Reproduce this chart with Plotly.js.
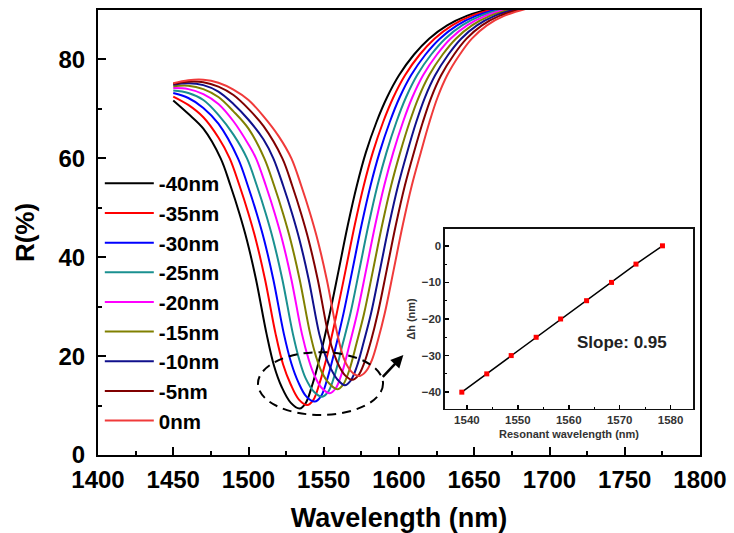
<!DOCTYPE html>
<html>
<head>
<meta charset="utf-8">
<script src="https://cdn.plot.ly/plotly-3.0.1.min.js"></script>
<style>html,body{margin:0;padding:0;background:#fff;}#chart{width:734px;height:533px;}</style>
</head>
<body>
<div id="chart"></div>
<script>
// Series names and colours
const names = ["-40nm","-35nm","-30nm","-25nm","-20nm","-15nm","-10nm","-5nm","0nm"];
const colors = ["#000000","#ff0000","#0000ff","#1a9090","#ff00ff","#808000","#10108c","#800000","#f03a3a"];

// Reflectance spectra (wavelength nm, R %)
const x0 = [1450,1460,1470,1481.5,1488,1494,1499,1505,1512,1517,1522,1528,1534,1538,1542,1548,1554,1560,1566,1572,1578,1585,1592,1600,1610,1620,1632,1645,1660,1680];
const y0 = [71.7,69.0,66.0,60,54.5,48.8,43.4,35.5,24.5,18,13.8,10.6,9.4,10.5,13.8,20.5,28.6,37.5,46.5,54.5,61.2,67.3,72.3,76.8,81.0,84.2,86.9,88.8,90.2,91.5];
const x1 = [1450,1460,1470,1480,1487.5,1494,1500,1505,1511,1518,1523,1528,1533.5,1539,1543,1547,1553,1558.6,1564.6,1570.6,1576.6,1582.6,1589.4,1596.2,1604,1613.8,1623.6,1635.3,1648.1,1663,1683];
const y1 = [72.5,70.8,68.3,64.2,60,54.5,48.8,43.4,35.5,24.5,18.3,14.3,11.2,10.1,11.1,14.3,21.0,28.6,37.5,46.5,54.5,61.2,67.3,72.3,76.8,81.0,84.2,86.9,88.8,90.2,91.5];
const x2 = [1450,1460,1470,1480,1493,1499.5,1505.5,1510.5,1516.5,1523.5,1528.5,1533,1538.5,1544,1548,1552,1557.5,1563.1,1569.1,1575.1,1581.1,1587.1,1593.8,1600.4,1608,1617.6,1627.1,1638.6,1651.2,1666,1686];
const y2 = [73.2,72.2,70.2,67.0,60,54.5,48.8,43.4,35.5,24.5,18.5,14.8,11.8,10.8,11.8,15.0,21.3,28.6,37.5,46.5,54.5,61.2,67.3,72.3,76.8,81.0,84.2,86.9,88.8,90.2,91.5];
const x3 = [1450,1460,1470,1480,1490,1499,1505.5,1511.5,1516.5,1522.5,1529.5,1534,1538,1543.5,1549,1553,1557,1562.2,1567.7,1573.7,1579.7,1585.7,1591.7,1598.2,1604.6,1612,1621.4,1630.7,1641.9,1654.3,1669,1689];
const y3 = [73.7,73.2,71.8,68.8,64.8,60,54.5,48.8,43.4,35.5,24.5,19,15.5,12.8,11.8,12.8,15.9,22.0,28.6,37.5,46.5,54.5,61.2,67.3,72.3,76.8,81.0,84.2,86.9,88.8,90.2,91.5];
const x4 = [1450,1460,1470,1480,1490,1500,1505,1511.5,1517.5,1522.5,1528.5,1535.5,1540,1543.5,1548.5,1554,1558,1562,1567,1572.2,1578.2,1584.2,1590.2,1596.2,1602.6,1608.8,1616,1625.2,1634.2,1645.2,1657.4,1672,1692];
const y4 = [74.2,74.0,73.0,71.0,67.5,62.8,60,54.5,48.8,43.4,35.5,24.5,19.3,16.3,13.6,12.5,13.5,16.5,22.2,28.6,37.5,46.5,54.5,61.2,67.3,72.3,76.8,81.0,84.2,86.9,88.8,90.2,91.5];
const x5 = [1450,1460,1470,1480,1490,1500,1510.5,1517,1523,1528,1534,1541,1545,1548.5,1553.5,1559,1563,1567,1571.8,1576.8,1582.8,1588.8,1594.8,1600.8,1607,1613,1620,1629,1637.8,1648.5,1660.5,1675,1695];
const y5 = [74.6,74.7,74.0,72.4,69.5,66.0,60,54.5,48.8,43.4,35.5,24.5,19.8,16.9,14.5,13.3,14.3,17.2,22.6,28.6,37.5,46.5,54.5,61.2,67.3,72.3,76.8,81.0,84.2,86.9,88.8,90.2,91.5];
const x6 = [1450,1460,1470,1480,1490,1500,1510,1516.5,1523,1529,1534,1540,1547,1551,1554.5,1559,1564,1568,1572,1576.6,1581.4,1587.4,1593.4,1599.4,1605.4,1611.4,1617.2,1624,1632.8,1641.3,1651.8,1663.6,1678,1698];
const y6 = [74.9,75.2,74.8,73.5,71.0,67.8,63.8,60,54.5,48.8,43.4,35.5,24.5,20.2,17.6,15.3,14.1,15.1,17.9,22.9,28.6,37.5,46.5,54.5,61.2,67.3,72.3,76.8,81.0,84.2,86.9,88.8,90.2,91.5];
const x7 = [1450,1460,1470,1480,1490,1500,1510,1522.5,1529,1535,1540,1546,1553,1557,1560.5,1564.5,1569,1573,1577,1581.4,1585.9,1591.9,1597.9,1603.9,1609.9,1615.8,1621.4,1628,1636.6,1644.9,1655.1,1666.7,1681,1701];
const y7 = [75.1,75.5,75.4,74.5,72.8,70.0,66.5,60,54.5,48.8,43.4,35.5,24.5,20.3,17.8,16.0,15.2,16.1,18.7,23.1,28.6,37.5,46.5,54.5,61.2,67.3,72.3,76.8,81.0,84.2,86.9,88.8,90.2,91.5];
const x8 = [1450,1460,1470,1480,1490,1500,1510,1520,1528.5,1535,1541,1546,1552,1559,1563,1566.5,1570,1574,1578,1582,1586,1590.5,1596.5,1602.5,1608.5,1614.5,1620.2,1625.6,1632,1640.4,1648.4,1658.4,1669.8,1684,1704];
const y8 = [75.2,75.8,75.9,75.3,73.9,71.8,68.5,64.5,60,54.5,48.8,43.4,35.5,24.5,19.8,17.6,16.4,16.0,16.9,19.2,23.2,28.6,37.5,46.5,54.5,61.2,67.3,72.3,76.8,81.0,84.2,86.9,88.8,90.2,91.5];

// Inset: resonant wavelength vs thickness change
const resWl = [1539.0,1543.9,1548.7,1553.6,1558.4,1563.5,1568.4,1573.2,1578.4];
const dh = [-40,-35,-30,-25,-20,-15,-10,-5,0];

const xs = [x0,x1,x2,x3,x4,x5,x6,x7,x8];
const ys = [y0,y1,y2,y3,y4,y5,y6,y7,y8];

const FONT = "Liberation Sans, Arial, sans-serif";
const traces = names.map((n,i)=>({
  x: xs[i], y: ys[i], name: n, type: 'scatter', mode: 'lines',
  line: {color: colors[i], width: 2, shape: 'spline', smoothing: 1.0},
  xaxis: 'x', yaxis: 'y'
}));
traces.push({
  x: resWl, y: dh, type: 'scatter', mode: 'lines+markers', showlegend: false,
  line: {color: '#000', width: 1.5},
  marker: {color: '#ff0000', symbol: 'square', size: 5},
  xaxis: 'x2', yaxis: 'y2'
});

const layout = {
  width: 734, height: 533,
  margin: {l: 98, r: 34, t: 10, b: 78},
  paper_bgcolor: '#fff', plot_bgcolor: '#fff',
  font: {family: FONT, color: '#000'},
  showlegend: true,
  legend: {x: 0.003, y: 0.655, xanchor: 'left', yanchor: 'top',
    bgcolor: 'rgba(0,0,0,0)', font: {family: FONT, size: 20.5, weight: 'bold'},
    itemwidth: 49, tracegroupgap: 0},
  xaxis: {
    domain: [0,1], range: [1400,1800], dtick: 50, tick0: 1400,
    ticks: 'inside', ticklen: 8, tickwidth: 2, tickcolor: '#000',
    minor: {dtick: 25, ticks: 'inside', ticklen: 4, tickwidth: 2, tickcolor: '#000'},
    showline: true, linewidth: 2, linecolor: '#000', mirror: true,
    showgrid: false, zeroline: false, ticklabelstandoff: 2,
    tickfont: {family: FONT, size: 24, weight: 'bold'},
    title: {text: 'Wavelength (nm)', font: {family: FONT, size: 27, weight: 'bold'}, standoff: 16}
  },
  yaxis: {
    domain: [0,1], range: [0,90], dtick: 20, tick0: 0,
    ticks: 'inside', ticklen: 8, tickwidth: 2, tickcolor: '#000',
    minor: {dtick: 10, ticks: 'inside', ticklen: 4, tickwidth: 2, tickcolor: '#000'},
    showline: true, linewidth: 2, linecolor: '#000', mirror: true,
    showgrid: false, zeroline: false, ticklabelstandoff: 6,
    tickfont: {family: FONT, size: 24, weight: 'bold'},
    title: {text: 'R(%)', font: {family: FONT, size: 26, weight: 'bold'}, standoff: 16}
  },
  xaxis2: {
    domain: [0.5764, 0.9884], anchor: 'y2', range: [1535.7, 1584.4], dtick: 10, tick0: 1540,
    ticks: 'inside', ticklen: 4, tickwidth: 1.5, tickcolor: '#000',
    minor: {dtick: 5, ticks: 'inside', ticklen: 2, tickwidth: 1, tickcolor: '#000'},
    showline: true, linewidth: 1.5, linecolor: '#111', mirror: true,
    showgrid: false, zeroline: false,
    tickfont: {family: FONT, size: 11.5, weight: 'bold', color: '#333'},
    title: {text: 'Resonant wavelength (nm)', font: {family: FONT, size: 11, weight: 'bold', color: '#333'}, standoff: 5}
  },
  yaxis2: {
    domain: [0.1034, 0.5079], anchor: 'x2', range: [-44.6, 4.6], dtick: 10, tick0: 0,
    ticks: 'inside', ticklen: 4, tickwidth: 1.5, tickcolor: '#000',
    minor: {dtick: 5, ticks: 'inside', ticklen: 2, tickwidth: 1, tickcolor: '#000'},
    showline: true, linewidth: 1.5, linecolor: '#111', mirror: true,
    showgrid: false, zeroline: false,
    tickfont: {family: FONT, size: 11.5, weight: 'bold', color: '#333'},
    title: {text: 'Δh (nm)', font: {family: FONT, size: 11, weight: 'bold', color: '#333'}, standoff: 4}
  },
  shapes: [
    {type: 'circle', xref: 'x', yref: 'y', x0: 1506.3, x1: 1589.4, y0: 8.1, y1: 20.8,
     line: {color: '#000', width: 2, dash: '9px,6px'}}
  ],
  annotations: [
    {xref: 'x2', yref: 'y2', x: 1570.5, y: -26.5, text: 'Slope: 0.95', showarrow: false,
     font: {family: FONT, size: 17, weight: 'bold', color: '#222'}},
    {xref: 'x', yref: 'y', axref: 'x', ayref: 'y', x: 1602.9, y: 20.2, ax: 1588.3, ay: 15.5,
     text: '', showarrow: true, arrowhead: 2, arrowsize: 1, arrowwidth: 2.5, arrowcolor: '#000'}
  ]
};

Plotly.newPlot('chart', traces, layout, {displayModeBar: false, staticPlot: true});
</script>
</body>
</html>
